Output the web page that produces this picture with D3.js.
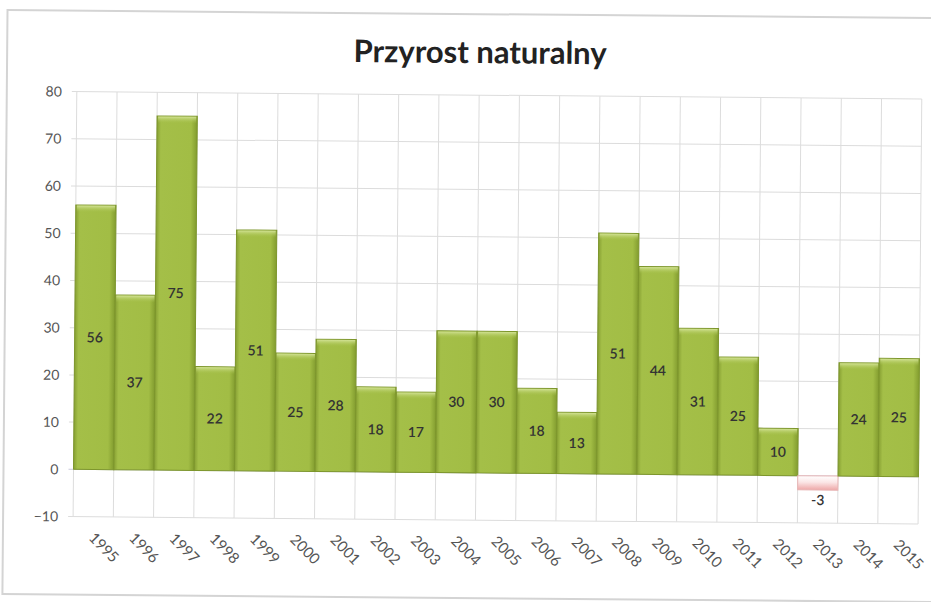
<!DOCTYPE html>
<html>
<head>
<meta charset="utf-8">
<script src="https://cdn.jsdelivr.net/npm/d3@7"></script>
<style>
  body { margin: 0; background: #fff; }
  text { font-family: Lato, "Open Sans", sans-serif; }
</style>
</head>
<body>
<svg id="chart" width="931" height="602"></svg>
<script>
var years = ["1995", "1996", "1997", "1998", "1999", "2000", "2001", "2002", "2003", "2004",
             "2005", "2006", "2007", "2008", "2009", "2010", "2011", "2012", "2013", "2014", "2015"];
var values = [56, 37, 75, 22, 51, 25, 28, 18, 17, 30, 30, 18, 13, 51, 44, 31, 25, 10, -3, 24, 25];
var yTicks = [-10, 0, 10, 20, 30, 40, 50, 60, 70, 80];
var title = "Przyrost naturalny";

var svg = d3.select("#chart");

// the scan is tilted a little, so the whole chart is turned by half a degree
var root = svg.append("g").attr("transform", "rotate(0.5, 465, 300)");

var defs = svg.append("defs");
var g1 = defs.append("linearGradient").attr("id", "barGrad").attr("x1", 0).attr("x2", 1).attr("y1", 0).attr("y2", 0);
g1.append("stop").attr("offset", "0%").attr("stop-color", "#87a033");
g1.append("stop").attr("offset", "10%").attr("stop-color", "#a4bf48");
g1.append("stop").attr("offset", "85%").attr("stop-color", "#a2bd45");
g1.append("stop").attr("offset", "100%").attr("stop-color", "#829c2f");

var g2 = defs.append("linearGradient").attr("id", "topGrad").attr("x1", 0).attr("x2", 0).attr("y1", 0).attr("y2", 1);
g2.append("stop").attr("offset", "0%").attr("stop-color", "#d2e294");
g2.append("stop").attr("offset", "100%").attr("stop-color", "#a4bf48").attr("stop-opacity", 0);

var g3 = defs.append("linearGradient").attr("id", "negGrad").attr("x1", 0).attr("x2", 0).attr("y1", 0).attr("y2", 1);
g3.append("stop").attr("offset", "0%").attr("stop-color", "#ffffff");
g3.append("stop").attr("offset", "45%").attr("stop-color", "#fbe6e6");
g3.append("stop").attr("offset", "100%").attr("stop-color", "#eea7a7");

// chart border
root.append("rect")
    .attr("x", 5).attr("y", 14)
    .attr("width", 960).attr("height", 584)
    .attr("fill", "none")
    .attr("stroke", "#d4d4d4")
    .attr("stroke-width", 2);

root.append("text")
    .attr("x", 478).attr("y", 63)
    .attr("text-anchor", "middle")
    .attr("font-size", 31)
    .attr("font-weight", "bold")
    .attr("fill", "#222")
    .text(title);

var x = d3.scaleBand().domain(years).range([75, 920]).padding(0);
var y = d3.scaleLinear().domain([-10, 80]).range([520, 95]);

// gridlines
root.append("g").selectAll("line")
    .data(yTicks)
    .enter().append("line")
    .attr("x1", 70).attr("x2", 920)
    .attr("y1", function(d) { return y(d); })
    .attr("y2", function(d) { return y(d); })
    .attr("stroke", function(d) { return d == 0 ? "#c9c9dc" : "#dcdcdc"; })
    .attr("stroke-width", 1);

var bounds = years.map(function(d) { return x(d); }).concat([x.range()[1]]);
root.append("g").selectAll("line")
    .data(bounds)
    .enter().append("line")
    .attr("x1", function(d) { return d; })
    .attr("x2", function(d) { return d; })
    .attr("y1", y(80)).attr("y2", y(-10))
    .attr("stroke", "#dcdcdc")
    .attr("stroke-width", 1);

// y axis labels
var yAxis = d3.axisLeft(y).tickValues(yTicks).tickSize(0).tickPadding(0);
var ya = root.append("g").attr("transform", "translate(60,0)").call(yAxis);
ya.select(".domain").remove();
ya.selectAll("text").attr("font-size", 14).attr("fill", "#555").attr("font-family", "Lato, sans-serif");

// bars
root.append("g").selectAll("rect")
    .data(values)
    .enter().append("rect")
    .attr("x", function(d, i) { return x(years[i]); })
    .attr("y", function(d) { return d >= 0 ? y(d) : y(0); })
    .attr("width", x.bandwidth())
    .attr("height", function(d) { return Math.abs(y(d) - y(0)); })
    .attr("fill", function(d) { return d >= 0 ? "url(#barGrad)" : "url(#negGrad)"; })
    .attr("stroke", function(d) { return d >= 0 ? "#7d962c" : "#e7b4b4"; })
    .attr("stroke-width", 1);

// light bevel on the top of the positive bars
root.append("g").selectAll("rect")
    .data(values.map(function(v, i) { return {v: v, year: years[i]}; }).filter(function(d) { return d.v > 0; }))
    .enter().append("rect")
    .attr("x", function(d) { return x(d.year) + 1; })
    .attr("y", function(d) { return y(d.v) + 0.5; })
    .attr("width", x.bandwidth() - 2)
    .attr("height", 7)
    .attr("fill", "url(#topGrad)");

// data labels
root.append("g").selectAll("text")
    .data(values)
    .enter().append("text")
    .attr("x", function(d, i) { return x(years[i]) + x.bandwidth() / 2; })
    .attr("y", function(d) { return d >= 0 ? (y(d) + y(0)) / 2 : y(d) + 10; })
    .attr("dy", "0.35em")
    .attr("text-anchor", "middle")
    .attr("font-size", 14)
    .attr("font-weight", 600)
    .attr("fill", "#333")
    .text(function(d) { return d; });

// x axis labels, turned 45 degrees
root.append("g").selectAll("text")
    .data(years)
    .enter().append("text")
    .attr("transform", function(d) {
        return "translate(" + (x(d) + x.bandwidth() / 2 - 5) + "," + 542 + ") rotate(45)";
    })
    .attr("font-size", 15)
    .attr("fill", "#555")
    .text(function(d) { return d; });
</script>
</body>
</html>
